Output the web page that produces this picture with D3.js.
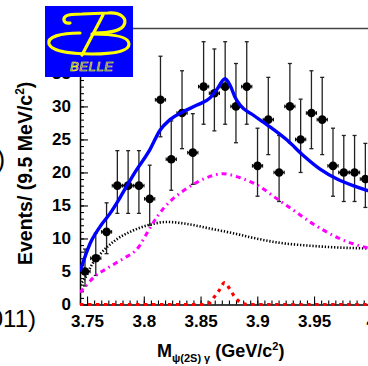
<!DOCTYPE html>
<html>
<head>
<meta charset="utf-8">
<script src="https://cdn.jsdelivr.net/npm/d3@7"></script>
<style>
  html, body { margin: 0; padding: 0; background: #fff; overflow: hidden; }
  svg { display: block; }
</style>
</head>
<body>
<svg id="chart" width="368" height="366"></svg>
<script>
// Bin centres of the psi(2S) gamma invariant mass (GeV/c^2), 9.5 MeV bins
const massBins = [3.7482, 3.7577, 3.7672, 3.7767, 3.7862, 3.7957, 3.8052, 3.8147, 3.8242,
                  3.8337, 3.8432, 3.8527, 3.8622, 3.8717, 3.8812, 3.8907, 3.9002, 3.9097,
                  3.9192, 3.9287, 3.9382, 3.9477, 3.9572, 3.9667, 3.9762, 3.9857, 3.9952];
// Events per bin and asymmetric (Poisson) errors
const events  = [5, 7, 11, 18, 18, 18, 16, 31, 22, 29, 23, 33, 32, 33, 30, 33, 21, 28, 20, 30, 25, 29, 28, 21, 20, 20, 19];
const errLow  = [2.2, 2.6, 3.3, 4.2, 4.2, 4.2, 4.0, 5.6, 4.7, 5.4, 4.8, 5.7, 5.7, 5.7, 5.5, 5.7, 4.6, 5.3, 4.4, 5.5, 5.0, 5.4, 5.3, 4.6, 4.4, 4.4, 4.3];
const errHigh = [3.4, 3.8, 4.4, 5.3, 5.3, 5.3, 5.1, 6.6, 5.8, 6.4, 5.9, 6.8, 6.7, 6.8, 6.5, 6.8, 5.7, 6.4, 5.6, 6.5, 6.1, 6.4, 6.4, 5.7, 5.6, 5.6, 5.4];

// Fit components: [mass, events]
const totalFit = [[3.7438, 5.0], [3.7526, 9.2], [3.7615, 11.8], [3.7703, 13.8], [3.7791, 16.2],
                  [3.7852, 18.0], [3.7914, 19.8], [3.8055, 23.5], [3.8143, 26.4], [3.8231, 28.0],
                  [3.8346, 29.2], [3.8469, 30.2], [3.8584, 31.3], [3.8645, 32.6], [3.8716, 34.2],
                  [3.8760, 33.2], [3.8804, 31.4], [3.8848, 30.2], [3.8963, 28.7], [3.9112, 26.9],
                  [3.9262, 24.9], [3.9403, 22.6], [3.9553, 20.5], [3.9703, 19.0], [3.9844, 18.0],
                  [3.9967, 17.3], [4.0081, 16.8]];
const chiC1Bkg = [[3.7438, 1.8], [3.7500, 3.0], [3.7570, 4.3], [3.7659, 5.3], [3.7747, 6.2],
                  [3.7835, 7.1], [3.7923, 8.1], [3.7967, 9.0], [3.8011, 10.3], [3.8055, 11.6],
                  [3.8126, 13.5], [3.8231, 15.6], [3.8346, 17.2], [3.8469, 18.5], [3.8584, 19.4],
                  [3.8698, 19.8], [3.8848, 19.2], [3.8998, 18.1], [3.9174, 16.0], [3.9350, 13.9],
                  [3.9465, 12.5], [3.9579, 11.3], [3.9711, 10.1], [3.9844, 9.2], [3.9967, 8.6],
                  [4.0081, 8.2]];
const combBkg  = [[3.7438, 3.0], [3.7500, 4.5], [3.7526, 5.5], [3.7615, 7.6], [3.7764, 9.9],
                  [3.7905, 11.2], [3.8055, 12.1], [3.8205, 12.5], [3.8381, 12.2], [3.8584, 11.5],
                  [3.8786, 10.8], [3.8936, 10.2], [3.9174, 9.4], [3.9465, 8.9], [3.9756, 8.6],
                  [3.9967, 8.5], [4.0081, 8.45]];
const x3872Sig = [[3.7438, 0], [3.8540, 0], [3.8584, 0.3], [3.8619, 1.1], [3.8663, 2.1],
                  [3.8711, 3.3], [3.8756, 2.4], [3.8795, 1.3], [3.8830, 0.6], [3.8874, 0.1],
                  [3.8936, 0], [4.0081, 0]];

// Axis ticks
const xMajorTicks = [3.75, 3.8, 3.85, 3.9, 3.95, 4.0];
const xTickLabels = ["3.75", "3.8", "3.85", "3.9", "3.95", "4"];
const yMajorTicks = [0, 5, 10, 15, 20, 25, 30, 35, 40];
const yTickLabels = ["0", "5", "10", "15", "20", "25", "30", "35", "40"];

const FONT = "'Liberation Sans', Arial, Helvetica, sans-serif";
const svg = d3.select("#chart");

const x = d3.scaleLinear().domain([3.7438, 4.02]).range([80, 393.5]);
const y = d3.scaleLinear().domain([0, 41.8]).range([304.5, 28.5]);

svg.append("defs").append("clipPath").attr("id", "plotClip")
  .append("rect").attr("x", 80).attr("y", 20).attr("width", 330).attr("height", 292);

// top frame
svg.append("line").attr("x1", 80).attr("x2", 400).attr("y1", y(41.8)).attr("y2", y(41.8))
  .attr("stroke", "#444").attr("stroke-width", 1.5);

// x axis
const gx = svg.append("g").attr("transform", `translate(0,${y(0)})`)
  .call(d3.axisBottom(x).tickValues(xMajorTicks).tickFormat((d, i) => xTickLabels[i])
        .tickSizeInner(-8).tickSizeOuter(0).tickPadding(10));
gx.append("g").call(d3.axisBottom(x).tickValues(d3.range(3.74375, 4.02, 0.00625))
        .tickFormat("").tickSizeInner(-4).tickSizeOuter(0))
  .select(".domain").remove();

// y axis
const gy = svg.append("g").attr("transform", `translate(${x.range()[0]},0)`)
  .call(d3.axisLeft(y).tickValues(yMajorTicks).tickFormat((d, i) => yTickLabels[i])
        .tickSizeInner(-8).tickSizeOuter(0).tickPadding(9));
gy.append("g").call(d3.axisLeft(y).tickValues(d3.range(0, 42, 1))
        .tickFormat("").tickSizeInner(-4).tickSizeOuter(0))
  .select(".domain").remove();

svg.selectAll(".domain").attr("stroke", "#000").attr("stroke-width", 1.5);
svg.selectAll(".tick line").attr("stroke", "#000").attr("stroke-width", 1.1);
svg.selectAll(".tick text").attr("font-family", FONT).attr("font-size", 17)
  .attr("font-weight", "bold").attr("fill", "#000");

// data points with error bars
const pts = massBins.map((m, i) => ({ m, v: events[i], lo: errLow[i], hi: errHigh[i] }));
const gd = svg.append("g").attr("clip-path", "url(#plotClip)");
const pg = gd.selectAll("g.pt").data(pts).join("g").attr("class", "pt");
pg.append("line").attr("x1", d => x(d.m)).attr("x2", d => x(d.m))
  .attr("y1", d => y(d.v - d.lo)).attr("y2", d => y(d.v + d.hi))
  .attr("stroke", "#222").attr("stroke-width", 1.3);
[d => d.v - d.lo, d => d.v + d.hi].forEach(f => {
  pg.append("line").attr("x1", d => x(d.m) - 2).attr("x2", d => x(d.m) + 2)
    .attr("y1", d => y(f(d))).attr("y2", d => y(f(d)))
    .attr("stroke", "#222").attr("stroke-width", 1.3);
});
pg.append("line").attr("x1", d => x(d.m - 0.0045)).attr("x2", d => x(d.m + 0.0045))
  .attr("y1", d => y(d.v)).attr("y2", d => y(d.v)).attr("stroke", "#000").attr("stroke-width", 1.3);
[-0.0045, 0.0045].forEach(o => {
  pg.append("line").attr("x1", d => x(d.m + o)).attr("x2", d => x(d.m + o))
    .attr("y1", d => y(d.v) - 1.8).attr("y2", d => y(d.v) + 1.8)
    .attr("stroke", "#000").attr("stroke-width", 1);
});
pg.append("circle").attr("cx", d => x(d.m)).attr("cy", d => y(d.v)).attr("r", 4.3).attr("fill", "#000");

// fit curves
const line = d3.line().x(d => x(d[0])).y(d => y(d[1])).curve(d3.curveMonotoneX);
const gc = svg.append("g").attr("clip-path", "url(#plotClip)").attr("fill", "none");
gc.append("path").attr("d", line(combBkg)).attr("stroke", "#000")
  .attr("stroke-width", 2.6).attr("stroke-dasharray", "1.3,1.8");
gc.append("path").attr("d", line(chiC1Bkg)).attr("stroke", "#ff00ff")
  .attr("stroke-width", 3).attr("stroke-dasharray", "5,4,1.6,4");
gc.append("path").attr("d", line(x3872Sig)).attr("stroke", "#ff0000")
  .attr("stroke-width", 3.2).attr("stroke-dasharray", "3.5,4.5");
gc.append("path").attr("d", line(totalFit)).attr("stroke", "#0000ff")
  .attr("stroke-width", 3.4).attr("stroke-linejoin", "round");

// axis titles
const xt = svg.append("text").attr("x", 157).attr("y", 357).attr("font-family", FONT)
  .attr("font-weight", "bold").attr("font-size", 18).attr("fill", "#000");
xt.append("tspan").text("M");
xt.append("tspan").attr("font-size", 11).attr("dy", 5).text("ψ(2S) γ");
xt.append("tspan").attr("dy", -5).text(" (GeV/c");
xt.append("tspan").attr("font-size", 11).attr("dy", -7).text("2");
xt.append("tspan").attr("dy", 7).text(")");

const yt = svg.append("text").attr("transform", "translate(32,265) rotate(-90)")
  .attr("font-family", FONT).attr("font-weight", "bold").attr("font-size", 19.5).attr("fill", "#000");
yt.append("tspan").text("Events/ (9.5 MeV/c");
yt.append("tspan").attr("font-size", 12).attr("dy", -8).text("2");
yt.append("tspan").attr("dy", 8).text(")");

// neighbouring text at the left margin
svg.append("text").attr("x", 36).attr("y", 327).attr("text-anchor", "end")
  .attr("font-family", FONT).attr("font-size", 24).attr("fill", "#000").text("(2011)");
svg.append("text").attr("x", 5).attr("y", 168).attr("text-anchor", "end")
  .attr("font-family", FONT).attr("font-size", 25).attr("fill", "#000").text(")");

// Belle logo
const logo = svg.append("g");
logo.append("rect").attr("x", 45).attr("y", 6).attr("width", 88).attr("height", 71).attr("fill", "#0000ff");
const yel = "#ffff00";
const lg = logo.append("g").attr("fill", "none").attr("stroke", yel)
  .attr("stroke-width", 3.2).attr("stroke-linecap", "round");
lg.append("path").attr("d", "M70,23 C64,24 62,19 66,16 C69,14 75,14 82,14 L108,13 C122,12 127,19 124,25 C121,31 108,33 94,33");
lg.append("path").attr("d", "M92,34 C110,34 129,36 129,44 C129,52 112,54 92,54 C75,54 52,52 49,44 C47,37 60,33 80,33");
lg.append("path").attr("d", "M103,15 L82,55");
logo.append("text").attr("x", 70).attr("y", 71).attr("font-family", FONT).attr("font-style", "italic")
  .attr("font-size", 13).attr("textLength", 43).attr("fill", "none").attr("stroke", yel)
  .attr("stroke-width", 0.7).text("BELLE");
</script>
</body>
</html>
